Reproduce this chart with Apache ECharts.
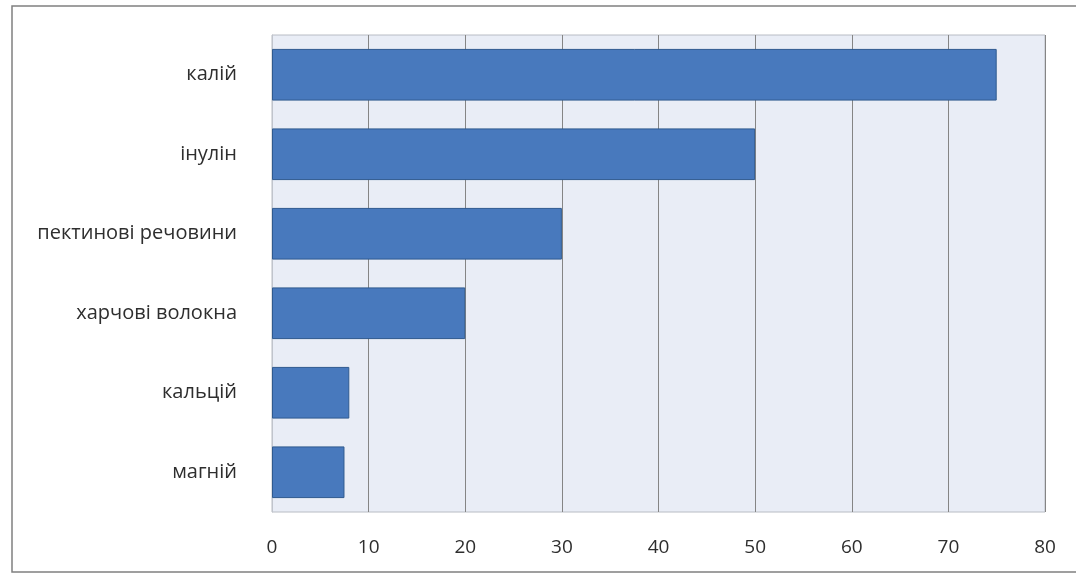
<!DOCTYPE html>
<html>
<head>
<meta charset="utf-8">
<script src="https://cdn.jsdelivr.net/npm/echarts@6/dist/echarts.min.js"></script>
<style>
html,body{margin:0;padding:0;background:#fff;}
#chart{width:1076px;height:579px;}
</style>
</head>
<body>
<div id="chart"></div>
<script>
var categories = ['калій', 'інулін', 'пектинові речовини', 'харчові волокна', 'кальцій', 'магній'];
var values = [75, 50, 30, 20, 8, 7.5];
var xTicks = { min: 0, max: 80, interval: 10 };

var chart = echarts.init(document.getElementById('chart'));
chart.setOption({
  animation: false,
  backgroundColor: '#ffffff',
  textStyle: { fontFamily: 'Open Sans' },
  graphic: [{
    type: 'rect',
    z: -10,
    silent: true,
    shape: { x: 12, y: 6, width: 1080, height: 566 },
    style: { fill: 'none', stroke: '#808080', lineWidth: 1.5 }
  }],
  grid: {
    left: 272, right: 31, top: 35, bottom: 67,
    show: true,
    backgroundColor: '#e9edf6',
    borderColor: '#b8bcc4',
    borderWidth: 1
  },
  xAxis: {
    type: 'value',
    min: xTicks.min, max: xTicks.max, interval: xTicks.interval,
    axisLine: { show: false },
    axisTick: { show: false },
    splitLine: { show: true, lineStyle: { color: '#858585', width: 1 } },
    axisLabel: { color: '#2e2e2e', fontSize: 19, margin: 26, fontFamily: 'Open Sans' }
  },
  yAxis: {
    type: 'category',
    inverse: true,
    data: categories,
    axisLine: { show: true, lineStyle: { color: '#c0c4cc' } },
    axisTick: { show: false },
    axisLabel: { color: '#2e2e2e', fontSize: 20, margin: 35, fontFamily: 'Open Sans' }
  },
  series: [{
    type: 'bar',
    data: values,
    barCategoryGap: '35%',
    itemStyle: { color: '#4879bd', borderColor: '#2f5a8f', borderWidth: 1 }
  }]
});
</script>
</body>
</html>
